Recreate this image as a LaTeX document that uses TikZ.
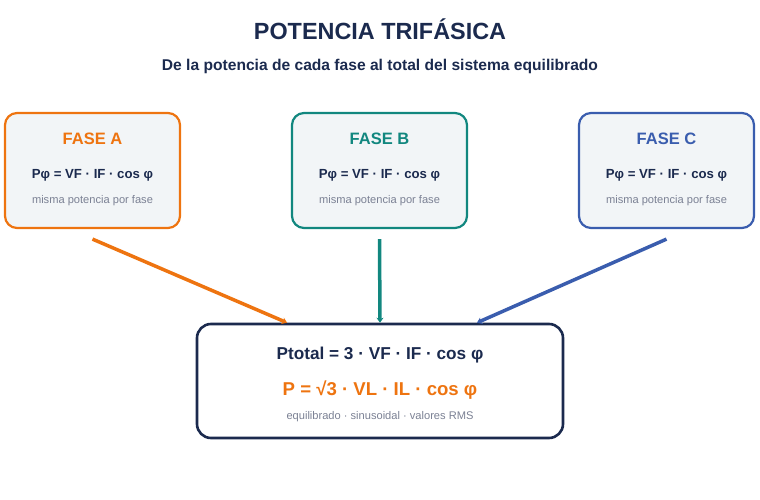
\documentclass[tikz,border=0pt]{standalone}
\usepackage{fontspec}
\setmainfont{Liberation Sans}
\usetikzlibrary{arrows.meta}

\definecolor{navy}{HTML}{1B2A4E}
\definecolor{faseA}{HTML}{EE7410}
\definecolor{faseB}{HTML}{12877F}
\definecolor{faseC}{HTML}{3A5DAE}
\definecolor{boxfill}{HTML}{F2F5F7}
\definecolor{notegray}{HTML}{7B8194}

\tikzset{
  fasebox/.style={draw=#1, line width=2.2pt, fill=boxfill, rounded corners=12pt,
    minimum width=175pt, minimum height=115pt, inner sep=0pt},
  totalbox/.style={draw=navy, line width=2.6pt, fill=white, rounded corners=14pt,
    minimum width=366pt, minimum height=114pt, inner sep=0pt},
  fasetitle/.style={text=#1, font=\fontsize{16.5}{19}\selectfont\bfseries, inner sep=0pt},
  formula/.style={text=navy, font=\fontsize{13.2}{16}\selectfont\bfseries, inner sep=0pt},
  note/.style={text=notegray, font=\fontsize{11.1}{13}\selectfont, inner sep=0pt},
  flow/.style={draw=#1, line width=3.5pt, -{Stealth[length=5pt,width=7pt]}}
}

\begin{document}
\begin{tikzpicture}[x=1pt,y=1pt,yscale=-1]
  \useasboundingbox (0,0) rectangle (760,500);

  % titulo
  \node (titulo) [text=navy, font=\fontsize{23.4}{28}\selectfont\bfseries, inner sep=0pt] at (380,29) {POTENCIA TRIFÁSICA};
  \node (subtitulo) [text=navy, font=\fontsize{15.6}{18}\selectfont\bfseries, inner sep=0pt] at (380,66) {De la potencia de cada fase al total del sistema equilibrado};

  % las tres fases
  \node (a) [fasebox=faseA] at (92.5,170.5) {};
  \node (b) [fasebox=faseB] at (379.5,170.5) {};
  \node (c) [fasebox=faseC] at (666.5,170.5) {};

  \node (aT) [fasetitle=faseA] at ([yshift=27pt]a.north) {FASE A};
  \node (aF) [formula] at ([yshift=63pt]a.north) {Pφ = VF · IF · cos φ};
  \node (aN) [note] at ([yshift=89pt]a.north) {misma potencia por fase};
  \node (bT) [fasetitle=faseB] at ([yshift=27pt]b.north) {FASE B};
  \node (bF) [formula] at ([yshift=63pt]b.north) {Pφ = VF · IF · cos φ};
  \node (bN) [note] at ([yshift=89pt]b.north) {misma potencia por fase};
  \node (cT) [fasetitle=faseC] at ([yshift=27pt]c.north) {FASE C};
  \node (cF) [formula] at ([yshift=63pt]c.north) {Pφ = VF · IF · cos φ};
  \node (cN) [note] at ([yshift=89pt]c.north) {misma potencia por fase};

  % total
  \node (tot) [totalbox] at (380,381) {};
  \node (totF) [text=navy, font=\fontsize{17.2}{20}\selectfont\bfseries, inner sep=0pt] at ([yshift=32pt]tot.north) {Ptotal = 3 · VF · IF · cos φ};
  \node (totL) [text=faseA, font=\fontsize{18.6}{22}\selectfont\bfseries, inner sep=0pt] at ([yshift=67pt]tot.north) {P = √3 · VL · IL · cos φ};
  \node (totN) [note] at ([yshift=94pt]tot.north) {equilibrado · sinusoidal · valores RMS};

  % flechas
  \draw [flow=faseA] ([yshift=10pt]a.south) -- ([xshift=-93pt]tot.north);
  \draw [flow=faseB] ([yshift=10pt]b.south) -- (tot.north);
  \draw [flow=faseC] ([yshift=10pt]c.south) -- ([xshift=97pt]tot.north);
\end{tikzpicture}
\end{document}
